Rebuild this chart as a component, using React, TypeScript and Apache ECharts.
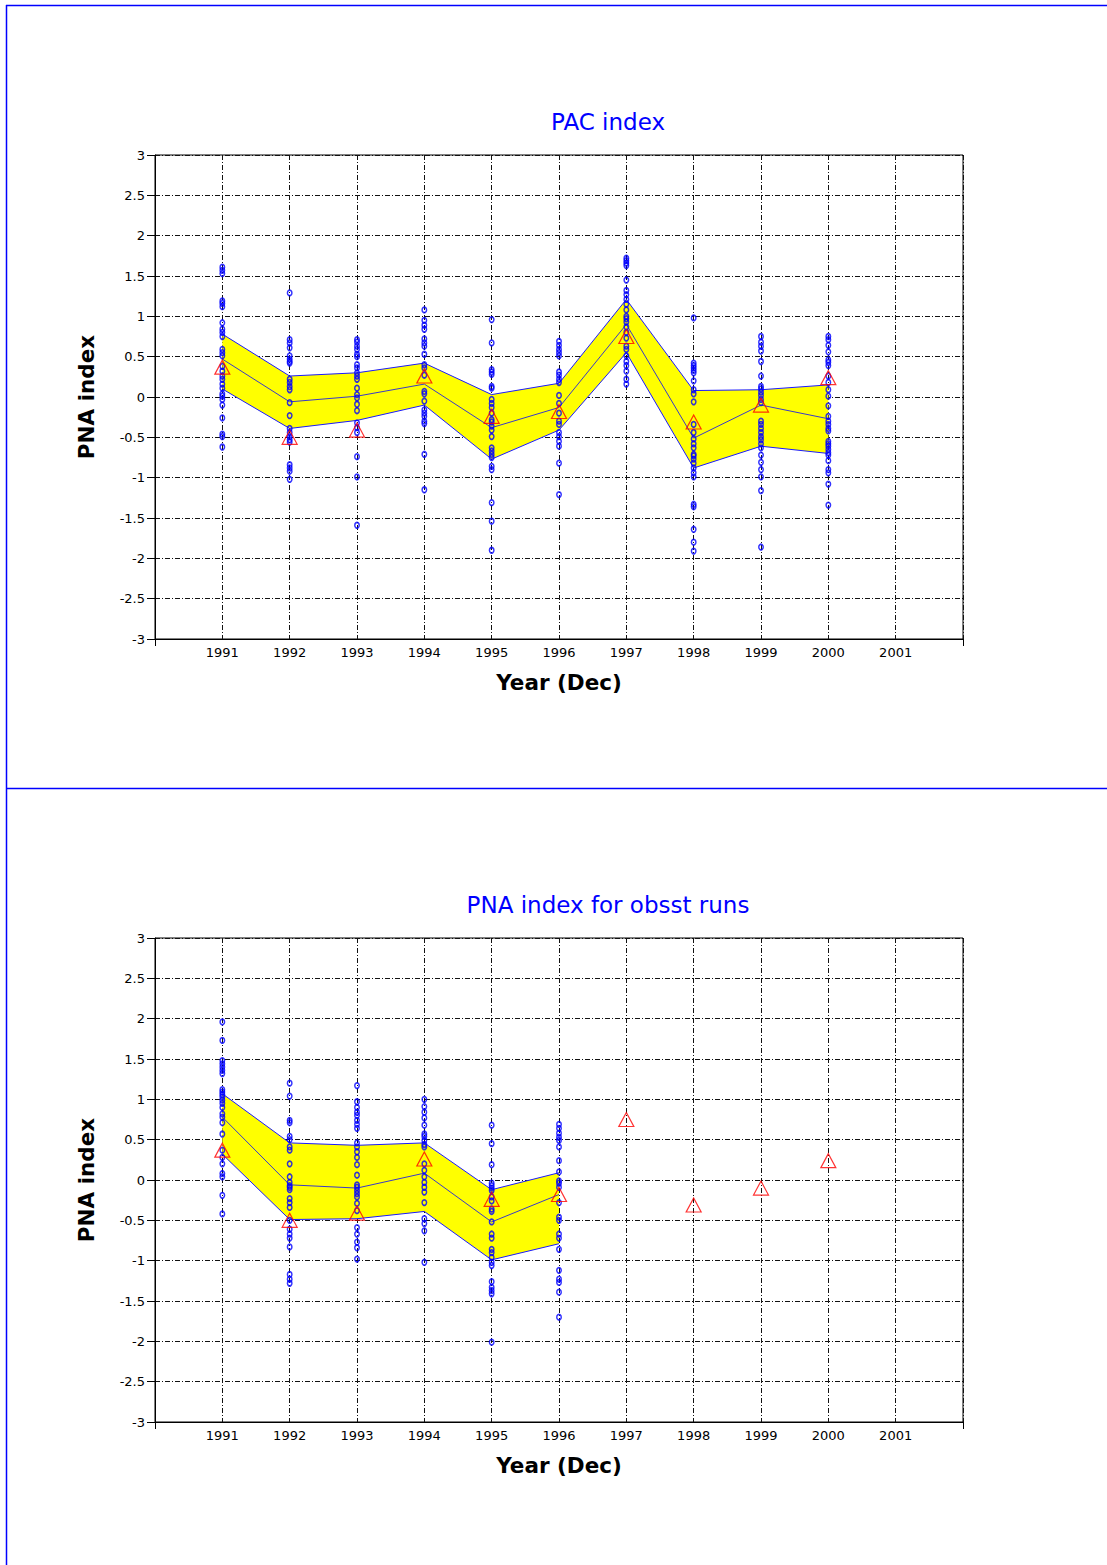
import React, { useEffect, useRef } from "react";
import * as echarts from "echarts";

// ---------- DATA ----------
const years = [1991, 1992, 1993, 1994, 1995, 1996, 1997, 1998, 1999, 2000];
const observed = [0.37, -0.5, -0.41, 0.26, -0.24, -0.18, 0.75, -0.31, -0.1, 0.24];

// Panel 1: PAC index
const pacUpper = [0.78, 0.26, 0.3, 0.42, 0.03, 0.17, 1.21, 0.08, 0.09, 0.15];
const pacMean = [0.47, -0.06, 0.01, 0.16, -0.38, -0.13, 0.9, -0.51, -0.1, -0.27];
const pacLower = [0.1, -0.39, -0.29, -0.1, -0.77, -0.41, 0.55, -0.88, -0.61, -0.7];
const pacEnsemble = [
  [1.61, 1.57, 1.53, 1.19, 1.16, 1.12, 0.92, 0.84, 0.8, 0.75, 0.59, 0.55, 0.51, 0.38, 0.32, 0.26, 0.22, 0.16, 0.11, 0.04, 0.01, -0.03, -0.1, -0.26, -0.46, -0.49, -0.62],
  [1.29, 0.71, 0.67, 0.61, 0.51, 0.47, 0.44, 0.42, 0.22, 0.18, 0.13, 0.09, -0.07, -0.23, -0.39, -0.44, -0.49, -0.53, -0.56, -0.84, -0.88, -0.92, -1.02],
  [0.71, 0.68, 0.63, 0.59, 0.53, 0.5, 0.4, 0.36, 0.3, 0.26, 0.22, 0.11, 0.03, -0.01, -0.09, -0.17, -0.32, -0.38, -0.44, -0.74, -0.99, -1.59],
  [1.08, 0.95, 0.89, 0.84, 0.72, 0.67, 0.63, 0.53, 0.4, 0.36, 0.27, 0.07, 0.04, -0.05, -0.16, -0.2, -0.24, -0.3, -0.33, -0.71, -1.15],
  [0.96, 0.67, 0.34, 0.31, 0.28, 0.13, 0.11, -0.03, -0.08, -0.13, -0.2, -0.28, -0.31, -0.36, -0.41, -0.49, -0.63, -0.67, -0.71, -0.75, -0.86, -0.9, -1.31, -1.54, -1.9],
  [0.69, 0.64, 0.59, 0.55, 0.51, 0.31, 0.27, 0.22, 0.18, 0.02, -0.08, -0.2, -0.3, -0.34, -0.44, -0.49, -0.55, -0.61, -0.82, -1.21],
  [1.72, 1.69, 1.66, 1.63, 1.45, 1.32, 1.27, 1.21, 1.15, 1.08, 1.0, 0.97, 0.93, 0.87, 0.8, 0.73, 0.63, 0.59, 0.51, 0.44, 0.39, 0.32, 0.22, 0.16],
  [0.98, 0.42, 0.39, 0.36, 0.33, 0.3, 0.2, 0.09, 0.04, -0.06, -0.34, -0.44, -0.52, -0.58, -0.63, -0.71, -0.73, -0.77, -0.82, -0.88, -0.94, -0.99, -1.33, -1.36, -1.64, -1.8, -1.91],
  [0.75, 0.68, 0.63, 0.57, 0.44, 0.26, 0.13, 0.1, 0.06, 0.02, -0.03, -0.07, -0.3, -0.34, -0.39, -0.44, -0.49, -0.53, -0.58, -0.63, -0.72, -0.81, -0.9, -0.99, -1.16, -1.86],
  [0.75, 0.71, 0.64, 0.56, 0.46, 0.43, 0.39, 0.26, 0.18, 0.09, 0.01, -0.11, -0.24, -0.3, -0.34, -0.39, -0.42, -0.55, -0.58, -0.61, -0.65, -0.69, -0.72, -0.79, -0.9, -0.94, -1.08, -1.34],
];

// Panel 2: PNA index for obsst runs (1991-1996 only)
const obsstYears = [1991, 1992, 1993, 1994, 1995, 1996];
const obsstUpper = [1.07, 0.46, 0.43, 0.46, -0.12, 0.09];
const obsstMean = [0.78, -0.06, -0.1, 0.085, -0.52, -0.18];
const obsstLower = [0.32, -0.49, -0.48, -0.39, -0.99, -0.79];
const obsstEnsemble = [
  [1.96, 1.73, 1.48, 1.44, 1.4, 1.36, 1.32, 1.12, 1.09, 1.06, 1.03, 0.99, 0.95, 0.9, 0.82, 0.78, 0.71, 0.57, 0.37, 0.28, 0.2, 0.08, 0.04, -0.19, -0.42],
  [1.2, 1.04, 0.74, 0.71, 0.54, 0.5, 0.41, 0.37, 0.2, 0.04, -0.03, -0.07, -0.09, -0.12, -0.23, -0.28, -0.34, -0.5, -0.61, -0.67, -0.72, -0.83, -1.17, -1.23, -1.28],
  [1.17, 0.97, 0.9, 0.84, 0.8, 0.74, 0.69, 0.64, 0.46, 0.41, 0.35, 0.28, 0.19, 0.06, -0.06, -0.09, -0.13, -0.17, -0.21, -0.29, -0.38, -0.59, -0.67, -0.77, -0.84, -0.98],
  [1.0, 0.91, 0.84, 0.77, 0.68, 0.57, 0.54, 0.49, 0.44, 0.41, 0.2, 0.12, 0.04, -0.03, -0.09, -0.15, -0.28, -0.48, -0.54, -0.63, -1.02],
  [0.68, 0.45, 0.19, -0.04, -0.07, -0.1, -0.13, -0.21, -0.26, -0.36, -0.39, -0.52, -0.67, -0.72, -0.86, -0.9, -0.96, -1.02, -1.06, -1.26, -1.33, -1.37, -1.41, -2.01],
  [0.69, 0.64, 0.58, 0.53, 0.49, 0.41, 0.24, 0.1, -0.01, -0.04, -0.09, -0.28, -0.46, -0.5, -0.67, -0.72, -0.86, -1.12, -1.23, -1.27, -1.39, -1.7],
];

const panelTitles = ["PAC index", "PNA index for obsst runs"];
const xAxisTitle = "Year (Dec)";
const yAxisTitle = "PNA index";

// ---------- STYLE ----------
const FONT = "DejaVu Sans";
const GRID_DASH = [5, 2, 1, 2];
const GRID_LEFT = 155;
const GRID_WIDTH = 808;
const GRID_HEIGHT = 484;
const GRID_TOPS = [155, 938];

function panelSeries(
  g: number,
  bandYears: number[],
  upper: number[],
  mean: number[],
  lower: number[],
  ensemble: number[][]
) {
  const dots: number[][] = [];
  ensemble.forEach((arr, i) => arr.forEach((v) => dots.push([bandYears[i], v])));
  const lineOf = (vals: number[], color: string) => ({
    type: "line",
    xAxisIndex: g,
    yAxisIndex: g,
    data: bandYears.map((y, i) => [y, vals[i]]),
    symbol: "none",
    lineStyle: { color, width: 1 },
    silent: true,
    z: 3,
  });
  return [
    {
      type: "custom",
      xAxisIndex: g,
      yAxisIndex: g,
      data: bandYears.map((y, i) => [y, lower[i], upper[i]]),
      encode: { x: 0, y: [1, 2] },
      silent: true,
      z: 1,
      renderItem: (params: any, api: any) => {
        if (params.dataIndex !== 0) return { type: "group", children: [] };
        const pts: number[][] = [];
        for (let i = 0; i < bandYears.length; i++) pts.push(api.coord([bandYears[i], upper[i]]));
        for (let i = bandYears.length - 1; i >= 0; i--) pts.push(api.coord([bandYears[i], lower[i]]));
        return { type: "polygon", shape: { points: pts }, style: { fill: "#ffff00", stroke: "none" } };
      },
    },
    lineOf(upper, "#1a1aff"),
    lineOf(lower, "#1a1aff"),
    lineOf(mean, "#3a3ac8"),
    {
      type: "scatter",
      xAxisIndex: g,
      yAxisIndex: g,
      data: dots,
      symbol: "circle",
      symbolSize: [4.5, 5.5],
      itemStyle: { color: "rgba(255,255,255,0)", borderColor: "#0000ff", borderWidth: 1.6 },
      silent: true,
      z: 4,
    },
    {
      type: "scatter",
      xAxisIndex: g,
      yAxisIndex: g,
      data: years.map((y, i) => [y, observed[i]]),
      symbol: "triangle",
      symbolSize: [15, 14],
      itemStyle: { color: "rgba(255,255,255,0)", borderColor: "#ff0000", borderWidth: 1.2 },
      silent: true,
      z: 5,
    },
  ];
}

function xAxisOf(g: number) {
  return {
    type: "value",
    gridIndex: g,
    min: 1990,
    max: 2002,
    interval: 1,
    axisLine: { show: true, onZero: false, lineStyle: { color: "#000", width: 1 } },
    axisTick: { show: false },
    axisLabel: {
      formatter: (v: number) => (v === 1990 || v === 2002 ? "" : String(v)),
      fontFamily: FONT,
      fontSize: 13,
      color: "#000",
      margin: 7,
    },
    splitLine: { show: true, lineStyle: { color: "#111", type: GRID_DASH, width: 1 } },
    name: xAxisTitle,
    nameLocation: "middle",
    nameGap: 32,
    nameTextStyle: { fontFamily: FONT, fontWeight: "bold", fontSize: 21.5, color: "#000" },
  };
}

function yAxisOf(g: number) {
  return {
    type: "value",
    gridIndex: g,
    min: -3,
    max: 3,
    interval: 0.5,
    axisLine: { show: true, onZero: false, lineStyle: { color: "#000", width: 1 } },
    axisTick: { show: true, length: 8, lineStyle: { color: "#000" } },
    axisLabel: { fontFamily: FONT, fontSize: 13, color: "#000", margin: 10 },
    splitLine: { show: true, lineStyle: { color: "#111", type: GRID_DASH, width: 1 } },
    name: yAxisTitle,
    nameLocation: "middle",
    nameGap: 58,
    nameTextStyle: { fontFamily: FONT, fontWeight: "bold", fontSize: 21.5, color: "#000" },
  };
}

export default function App() {
  const ref = useRef<HTMLDivElement>(null);
  useEffect(() => {
    if (!ref.current) return;
    const chart = echarts.init(ref.current, undefined, { renderer: "svg" });
    const blue = "#0000ff";
    const endTicks: any[] = [];
    GRID_TOPS.forEach((top) => {
      const yb = top + GRID_HEIGHT;
      [GRID_LEFT + 0.5, GRID_LEFT + GRID_WIDTH + 0.5].forEach((x) => {
        endTicks.push({ type: "line", shape: { x1: x, y1: yb, x2: x, y2: yb + 7 }, style: { stroke: "#000", lineWidth: 1 } });
      });
    });
    chart.setOption({
      animation: false,
      backgroundColor: "#fff",
      grid: GRID_TOPS.map((top) => ({
        left: GRID_LEFT,
        top,
        width: GRID_WIDTH,
        height: GRID_HEIGHT,
        show: true,
        borderColor: "#000",
        borderWidth: 1,
        backgroundColor: "transparent",
      })),
      xAxis: [xAxisOf(0), xAxisOf(1)],
      yAxis: [yAxisOf(0), yAxisOf(1)],
      series: [
        ...panelSeries(0, years, pacUpper, pacMean, pacLower, pacEnsemble),
        ...panelSeries(1, obsstYears, obsstUpper, obsstMean, obsstLower, obsstEnsemble),
      ],
      graphic: [
        { type: "line", shape: { x1: 6, y1: 5.5, x2: 1107, y2: 5.5 }, style: { stroke: blue, lineWidth: 1.5 } },
        { type: "line", shape: { x1: 6.5, y1: 5, x2: 6.5, y2: 1565 }, style: { stroke: blue, lineWidth: 1.5 } },
        { type: "line", shape: { x1: 6, y1: 788.5, x2: 1107, y2: 788.5 }, style: { stroke: blue, lineWidth: 1.5 } },
        ...endTicks,
        {
          type: "text",
          x: 608,
          y: 122,
          style: { text: panelTitles[0], fill: blue, font: `23px "${FONT}"`, textAlign: "center", textVerticalAlign: "middle" },
        },
        {
          type: "text",
          x: 608,
          y: 905,
          style: { text: panelTitles[1], fill: blue, font: `23px "${FONT}"`, textAlign: "center", textVerticalAlign: "middle" },
        },
      ],
    });
    return () => chart.dispose();
  }, []);
  return <div ref={ref} style={{ position: "absolute", left: 0, top: 0, width: 1107, height: 1565 }} />;
}
